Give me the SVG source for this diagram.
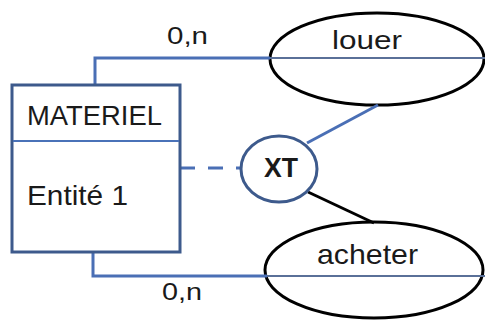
<svg xmlns="http://www.w3.org/2000/svg" width="485" height="320" viewBox="0 0 485 320">
<style>
text{font-family:"Liberation Sans",Arial,sans-serif;fill:#1a1a1a}
.ent{fill:#fff;stroke:#3d5a8c;stroke-width:3}
.div{stroke:#4a72b8;stroke-width:2}
.assoc{fill:#fff;stroke:#000;stroke-width:3}
.con{fill:none;stroke:#4a6fb5;stroke-width:3}
.thin{fill:none;stroke:#5a7098;stroke-width:2}
.blk{fill:none;stroke:#000;stroke-width:3}
</style>
<rect width="485" height="320" fill="#fff"/>
<g id="louer">
<ellipse class="assoc" cx="377" cy="59" rx="107" ry="46"/>
<line class="thin" x1="270" y1="58" x2="485" y2="58"/>
<text x="332" y="49" font-size="25" textLength="70" lengthAdjust="spacingAndGlyphs">louer</text>
</g>
<g id="acheter">
<ellipse class="assoc" cx="374" cy="270" rx="109" ry="48"/>
<line class="thin" x1="266" y1="276" x2="485" y2="276"/>
<text x="317" y="264" font-size="28" textLength="101" lengthAdjust="spacingAndGlyphs">acheter</text>
</g>
<g id="connectors">
<polyline class="con" points="95,85 95,58 270,58"/>
<polyline class="con" points="93,252 93,276 267,276"/>
<line class="con" x1="180" y1="168" x2="241" y2="168" stroke-dasharray="15,13"/>
<line class="con" x1="307" y1="143" x2="378" y2="105"/>
<line class="blk" x1="308" y1="192" x2="374" y2="223"/>
<text x="167" y="44" font-size="23" textLength="41" lengthAdjust="spacingAndGlyphs">0,n</text>
<text x="162" y="300" font-size="23" textLength="40" lengthAdjust="spacingAndGlyphs">0,n</text>
</g>
<g id="materiel">
<rect class="ent" x="12" y="85" width="168" height="167"/>
<line class="div" x1="13" y1="141" x2="179" y2="141"/>
<text x="27" y="125" font-size="28" textLength="135" lengthAdjust="spacingAndGlyphs">MATERIEL</text>
<text x="27" y="205" font-size="28" textLength="101" lengthAdjust="spacingAndGlyphs">Entité 1</text>
</g>
<g id="xt">
<ellipse cx="279" cy="169" rx="38" ry="33" fill="#fff" stroke="#3d5a8c" stroke-width="3"/>
<text x="264" y="177" font-size="27" font-weight="bold" textLength="34" lengthAdjust="spacingAndGlyphs">XT</text>
</g>
</svg>
